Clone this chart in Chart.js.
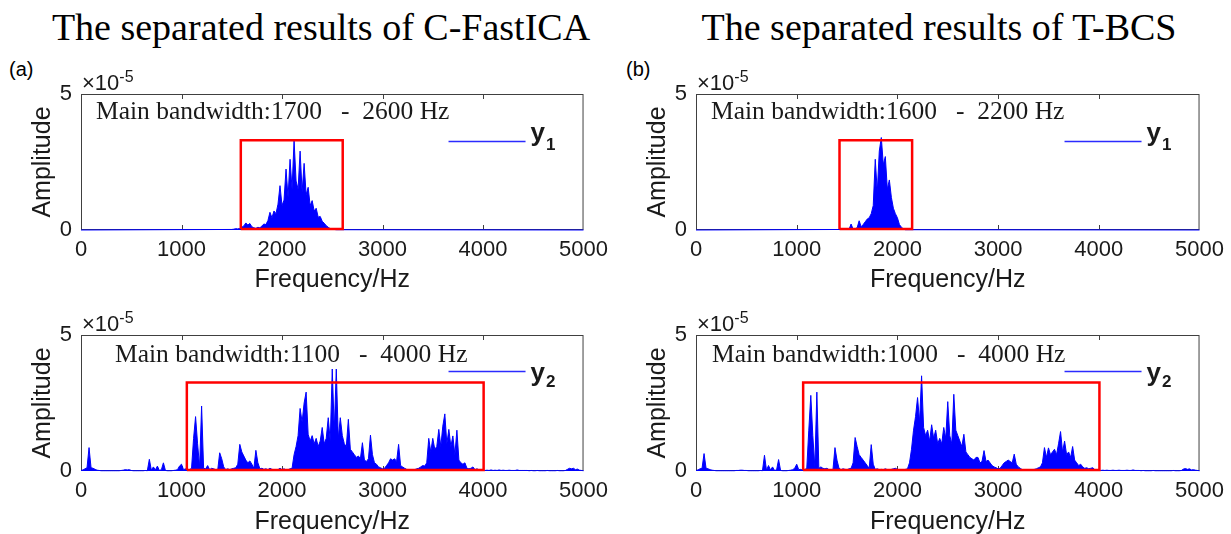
<!DOCTYPE html>
<html>
<head>
<meta charset="utf-8">
<title>The separated results</title>
<script src="https://cdn.jsdelivr.net/npm/chart.js@4.4.1/dist/chart.umd.min.js"></script>
<style>
  html, body { margin: 0; padding: 0; background: #fff; }
  #page { position: relative; width: 1231px; height: 534px; overflow: hidden; background: #fff; }
  .title { position: absolute; top: 8px; font: 38px "Liberation Serif", "Times New Roman", serif; line-height: 38px; text-align: center; color: #000; white-space: nowrap; }
  .tag { position: absolute; font: 20px "Liberation Sans", Arial, sans-serif; line-height: 20px; color: #000; }
  canvas { position: absolute; }
</style>
</head>
<body>
<div id="page">
  <div class="title" style="left:0;width:642px">The separated results of C-FastICA</div>
  <div class="title" style="left:640px;width:598px">The separated results of T-BCS</div>
  <div class="tag" style="left:9px;top:59px">(a)</div>
  <div class="tag" style="left:626px;top:59px">(b)</div>
  <canvas id="a1" width="615" height="240" style="left:0;top:60px"></canvas>
  <canvas id="b1" width="616" height="240" style="left:615px;top:60px"></canvas>
  <canvas id="a2" width="615" height="234" style="left:0;top:300px"></canvas>
  <canvas id="b2" width="616" height="234" style="left:615px;top:300px"></canvas>
</div>
<script>
// amplitude spectra, units of 1e-5, sampled every 20 Hz
const FREQ_STEP = 20;
const FREQ_MAX = 5000;

// C-FastICA, y1 (starts at 1500 Hz, zero elsewhere)
const startA1 = 1500;
const ampA1 = [
  0.02, 0.03, 0.05, 0.04, 0.06, 0.1, 0.15, 0.26, 0.18, 0.24,
  0.12, 0.08, 0.06, 0.1, 0.08, 0.15, 0.22, 0.2, 0.35, 0.65,
  0.45, 0.7, 0.6, 0.95, 1.63, 0.9, 1.1, 2.24, 1.2, 2.6,
  1.5, 3.3, 1.8, 1.5, 2.9, 1.4, 2.45, 1.3, 1.57, 0.9,
  1.08, 0.7, 0.8, 0.47, 0.5, 0.32, 0.25, 0.16, 0.1, 0.05,
  0.03, 0.02, 0.01
];

// T-BCS, y1
const startB1 = 1500;
const ampB1 = [
  0.02, 0.03, 0.22, 0.03, 0.05, 0.08, 0.34, 0.12, 0.2, 0.3,
  0.4, 0.45, 0.6, 0.9, 2.6, 1.4, 2.9, 3.4, 2.4, 2.7,
  1.5, 1.84, 1.2, 0.8, 0.6, 0.45, 0.2, 0.1, 0.04, 0.01
];

// C-FastICA, y2 (0 .. 5000 Hz)
const startA2 = 0;
const ampA2 = [
  0.02, 0.04, 0.08, 0.12, 0.86, 0.12, 0.1, 0.06, 0.03, 0.02,
  0.01, 0.01, 0.01, 0.01, 0.01, 0.01, 0.01, 0.01, 0.01, 0.01,
  0.02, 0.03, 0.05, 0.04, 0.05, 0.02, 0.01, 0.01, 0.01, 0.01,
  0.01, 0.01, 0.02, 0.01, 0.43, 0.03, 0.15, 0.04, 0.18, 0.02,
  0.05, 0.3, 0.02, 0.01, 0.01, 0.01, 0.02, 0.03, 0.05, 0.18,
  0.25, 0.05, 0.08, 0.02, 0.05, 0.1, 1.2, 2.0, 1.0, 0.15,
  2.39, 0.1, 0.08, 0.2, 0.05, 0.1, 0.08, 0.05, 0.03, 0.67,
  0.45, 0.15, 0.05, 0.08, 0.05, 0.08, 0.1, 0.12, 0.25, 0.98,
  0.7, 0.55, 0.4, 0.3, 0.37, 0.25, 0.1, 0.76, 0.3, 0.08,
  0.1, 0.06, 0.08, 0.05, 0.1, 0.06, 0.05, 0.04, 0.05, 0.1,
  0.05, 0.08, 0.04, 0.05, 0.08, 0.1, 0.6, 0.9, 1.3, 2.3,
  1.8, 2.5, 2.9, 1.35, 1.1, 1.3, 1.0, 1.2, 0.9, 1.1,
  1.6, 1.0, 1.2, 1.96, 1.1, 3.75, 1.5, 3.75, 1.2, 1.96,
  1.3, 1.0, 0.9, 1.9, 0.8, 0.7, 0.6, 0.5, 0.55, 0.45,
  1.04, 0.4, 0.35, 0.45, 1.32, 0.6, 0.3, 0.25, 0.15, 0.12,
  0.08, 0.1, 0.2, 0.3, 0.45, 0.4, 0.45, 0.35, 0.98, 0.2,
  0.15, 0.1, 0.06, 0.05, 0.04, 0.05, 0.05, 0.08, 0.1, 0.15,
  0.2, 0.18, 0.3, 1.2, 0.7, 1.2, 0.8, 0.9, 1.53, 0.9,
  1.65, 2.1, 1.0, 1.53, 0.9, 1.29, 0.6, 1.5, 0.4, 0.3,
  0.25, 0.3, 0.1, 0.08, 0.1, 0.15, 0.05, 0.08, 0.04, 0.05,
  0.03, 0.02, 0.03, 0.02, 0.04, 0.02, 0.03, 0.02, 0.04, 0.02,
  0.03, 0.02, 0.02, 0.03, 0.02, 0.02, 0.02, 0.04, 0.02, 0.02,
  0.02, 0.02, 0.02, 0.01, 0.02, 0.01, 0.01, 0.02, 0.01, 0.01,
  0.01, 0.01, 0.02, 0.01, 0.01, 0.01, 0.01, 0.02, 0.01, 0.01,
  0.01, 0.02, 0.06, 0.1, 0.08, 0.1, 0.05, 0.07, 0.03, 0.02,
  0.01
];

// T-BCS, y2
const startB2 = 0;
const ampB2 = [
  0.02, 0.04, 0.08, 0.1, 0.64, 0.1, 0.08, 0.05, 0.03, 0.02,
  0.01, 0.01, 0.01, 0.01, 0.01, 0.01, 0.01, 0.01, 0.01, 0.01,
  0.02, 0.02, 0.03, 0.03, 0.02, 0.02, 0.01, 0.01, 0.01, 0.01,
  0.01, 0.01, 0.02, 0.01, 0.58, 0.03, 0.2, 0.04, 0.15, 0.02,
  0.04, 0.42, 0.02, 0.01, 0.01, 0.01, 0.02, 0.03, 0.05, 0.1,
  0.25, 0.05, 0.06, 0.03, 0.05, 0.1, 1.5, 2.78, 1.3, 0.15,
  2.9, 0.1, 0.15, 0.1, 0.08, 0.1, 0.05, 0.04, 0.05, 0.86,
  0.4, 0.1, 0.05, 0.08, 0.06, 0.05, 0.08, 0.1, 0.3, 1.23,
  0.9, 0.6, 0.5, 0.4, 0.3, 0.2, 0.1, 0.97, 0.25, 0.06,
  0.08, 0.05, 0.06, 0.05, 0.08, 0.05, 0.04, 0.06, 0.08, 0.1,
  0.06, 0.05, 0.03, 0.04, 0.06, 0.08, 0.3, 0.8, 1.5, 2.0,
  2.7, 1.8, 3.5, 1.6, 1.3, 1.5, 1.1, 1.7, 1.2, 1.5,
  1.0, 1.2, 1.0, 1.6, 1.2, 2.55, 1.3, 1.0, 2.82, 1.5,
  1.3, 1.1, 0.9, 1.35, 0.7, 0.6, 0.5, 0.45, 0.4, 0.5,
  0.5, 0.3, 0.35, 0.75, 0.35, 0.4, 0.3, 0.2, 0.15, 0.12,
  0.08, 0.1, 0.2, 0.3, 0.35, 0.4, 0.35, 0.3, 0.62, 0.25,
  0.15, 0.1, 0.05, 0.04, 0.03, 0.03, 0.04, 0.05, 0.06, 0.08,
  0.12, 0.15, 0.3, 0.86, 0.5, 0.85, 0.6, 0.7, 0.8, 0.6,
  1.0, 1.45, 0.7, 1.1, 0.6, 0.7, 0.5, 0.9, 0.4, 0.3,
  0.2, 0.25, 0.15, 0.1, 0.12, 0.08, 0.1, 0.12, 0.05, 0.04,
  0.03, 0.02, 0.03, 0.02, 0.03, 0.02, 0.02, 0.03, 0.02, 0.02,
  0.03, 0.02, 0.02, 0.02, 0.03, 0.02, 0.02, 0.04, 0.02, 0.02,
  0.02, 0.01, 0.02, 0.01, 0.01, 0.01, 0.01, 0.02, 0.01, 0.01,
  0.01, 0.01, 0.01, 0.01, 0.01, 0.01, 0.01, 0.02, 0.01, 0.01,
  0.01, 0.02, 0.07, 0.09, 0.06, 0.08, 0.04, 0.05, 0.03, 0.02,
  0.01
];

// red boxes marking the main band (Hz, amplitude), order a1, b1, a2, b2
const boxLow = [1590, 1425, 1053, 1064];
const boxHigh = [2604, 2146, 4006, 4006];
const boxTop = [3.3, 3.3, 3.25, 3.25];

const bandLabels = [
  'Main bandwidth:1700   -  2600 Hz',
  'Main bandwidth:1600   -  2200 Hz',
  'Main bandwidth:1100   -  4000 Hz',
  'Main bandwidth:1000   -  4000 Hz'
];
const seriesSub = ['1', '1', '2', '2'];

const yMax = 5;
const xTickStep = 1000;

const BLUE = '#0000ff';
const LEGEND_BLUE = '#2b2bff';
const RED = '#ff0000';
const TEXT = '#1a1a1a';
const AXIS = '#404040';
const SANS = '"Liberation Sans", Arial, sans-serif';
const SERIF = '"Liberation Serif", "Times New Roman", serif';

function spectrumPoints(start, amps) {
  const pts = amps.map((a, i) => ({ x: start + i * FREQ_STEP, y: a }));
  if (start > 0) {
    pts.unshift({ x: 0, y: 0 });
    pts.push({ x: FREQ_MAX, y: 0 });
  }
  return pts;
}

function boxPoints(k) {
  const b = 0.04;
  return [
    { x: boxLow[k], y: b }, { x: boxLow[k], y: boxTop[k] },
    { x: boxHigh[k], y: boxTop[k] }, { x: boxHigh[k], y: b },
    { x: boxLow[k], y: b }
  ];
}

// axis frame with inward ticks, drawn under the data
const framePlugin = {
  id: 'frame',
  beforeDatasetsDraw(chart) {
    const { ctx, chartArea: a, scales: { x } } = chart;
    ctx.save();
    ctx.strokeStyle = AXIS;
    ctx.lineWidth = 1;
    ctx.strokeRect(a.left + 0.5, a.top + 0.5, a.width - 1, a.height - 1);
    ctx.beginPath();
    x.ticks.forEach(t => {
      if (t.value <= 0 || t.value >= FREQ_MAX) return;
      const px = Math.round(x.getPixelForValue(t.value)) + 0.5;
      ctx.moveTo(px, a.bottom);
      ctx.lineTo(px, a.bottom - 5);
      ctx.moveTo(px, a.top);
      ctx.lineTo(px, a.top + 5);
    });
    ctx.stroke();
    ctx.restore();
  }
};

// band label, legend entry and exponent
const decorPlugin = {
  id: 'decor',
  afterDraw(chart, args, o) {
    const { ctx, chartArea: a } = chart;
    ctx.save();
    ctx.fillStyle = TEXT;
    ctx.textBaseline = 'alphabetic';
    ctx.textAlign = 'left';

    ctx.font = '25.5px ' + SERIF;
    ctx.fillText(o.band, a.left + o.bandX, a.top + o.bandY);

    ctx.strokeStyle = LEGEND_BLUE;
    ctx.lineWidth = 1.5;
    ctx.beginPath();
    ctx.moveTo(a.right - 135, a.top + o.lineY);
    ctx.lineTo(a.right - 58, a.top + o.lineY);
    ctx.stroke();

    ctx.font = 'bold 26px ' + SANS;
    ctx.fillText('y', a.right - 53, a.top + o.nameY);
    const w = ctx.measureText('y').width;
    ctx.font = 'bold 17px ' + SANS;
    ctx.fillText(o.sub, a.right - 53 + w + 1, a.top + o.subY);

    ctx.font = '22px ' + SANS;
    ctx.fillText('\u00d710', a.left + 1, a.top - 4);
    const w2 = ctx.measureText('\u00d710').width;
    ctx.font = '16px ' + SANS;
    ctx.fillText('-5', a.left + 1 + w2, a.top - 12);
    ctx.restore();
  }
};

function makePanel(id, k, pts, isTop) {
  const ctx = document.getElementById(id).getContext('2d');
  const canvasH = isTop ? 240 : 234;
  const plotTop = isTop ? 34 : 35;
  const plotH = 136;
  return new Chart(ctx, {
    type: 'line',
    data: {
      datasets: [
        {
          data: boxPoints(k),
          borderColor: RED,
          borderWidth: 2.5,
          pointRadius: 0,
          fill: false,
          clip: 6
        },
        {
          data: pts,
          borderColor: BLUE,
          backgroundColor: BLUE,
          borderWidth: 1,
          pointRadius: 0,
          tension: 0,
          fill: 'origin',
          clip: 2
        }
      ]
    },
    options: {
      responsive: false,
      animation: false,
      devicePixelRatio: 1,
      parsing: false,
      layout: { padding: { top: plotTop, right: id[0] === 'a' ? 29 : 30, left: 0, bottom: 0 } },
      plugins: {
        legend: { display: false },
        tooltip: { enabled: false },
        decor: {
          band: bandLabels[k],
          sub: seriesSub[k],
          bandX: isTop ? 15 : (k === 2 ? 34 : 16),
          bandY: isTop ? 25 : 27,
          lineY: isTop ? 47.5 : 36.5,
          nameY: isTop ? 47 : 46,
          subY: isTop ? 56 : 52
        }
      },
      scales: {
        x: {
          type: 'linear',
          min: 0,
          max: FREQ_MAX,
          grid: { display: false, drawTicks: false },
          border: { display: false },
          ticks: {
            stepSize: xTickStep,
            padding: 7,
            color: TEXT,
            font: { family: SANS, size: 22 },
            maxRotation: 0,
            callback: v => String(v)
          },
          title: {
            display: true,
            text: 'Frequency/Hz',
            color: TEXT,
            font: { family: SANS, size: 25 },
            padding: { top: 0, bottom: isTop ? 5 : -3 }
          },
          afterFit: s => { s.height = canvasH - plotTop - plotH; }
        },
        y: {
          min: 0,
          max: yMax,
          grid: { display: false, drawTicks: false },
          border: { display: false },
          ticks: {
            stepSize: yMax,
            padding: 9,
            color: TEXT,
            font: { family: SANS, size: 22 }
          },
          title: {
            display: true,
            text: 'Amplitude',
            color: TEXT,
            font: { family: SANS, size: 25 },
            padding: { top: 28, bottom: 0 }
          },
          afterFit: s => { s.width = 81; }
        }
      }
    },
    plugins: [framePlugin, decorPlugin]
  });
}

makePanel('a1', 0, spectrumPoints(startA1, ampA1), true);
makePanel('b1', 1, spectrumPoints(startB1, ampB1), true);
makePanel('a2', 2, spectrumPoints(startA2, ampA2), false);
makePanel('b2', 3, spectrumPoints(startB2, ampB2), false);
</script>
</body>
</html>
